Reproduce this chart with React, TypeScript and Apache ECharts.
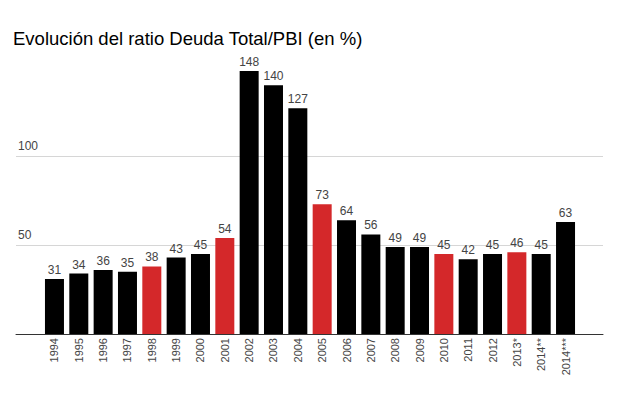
import React, { useEffect, useRef } from "react";
import * as echarts from "echarts";

const categories = ["1994", "1995", "1996", "1997", "1998", "1999", "2000", "2001", "2002", "2003", "2004", "2005", "2006", "2007", "2008", "2009", "2010", "2011", "2012", "2013*", "2014**", "2014***"];
const values = [31, 34, 36, 35, 38, 43, 45, 54, 148, 140, 127, 73, 64, 56, 49, 49, 45, 42, 45, 46, 45, 63];
const highlighted = ["1998", "2001", "2005", "2010", "2013*"];

const BLACK = "#000000";
const RED = "#d4282a";
const FONT = 'Arial, "Liberation Sans", sans-serif';

export default function App() {
  const ref = useRef<HTMLDivElement>(null);
  useEffect(() => {
    if (!ref.current) return;
    const chart = echarts.init(ref.current, undefined, { renderer: "svg" });
    const top = 67.4;
    const bottom = 70;
    chart.setOption({
      animation: false,
      backgroundColor: "#ffffff",
      textStyle: { fontFamily: FONT },
      title: {
        text: "Evolución del ratio Deuda Total/PBI (en %)",
        left: 13,
        top: 29,
        padding: 0,
        textStyle: { fontSize: 18.5, fontWeight: "normal", color: "#000", fontFamily: FONT },
      },
      grid: [
        { left: 16, right: 28, top, bottom },
        { left: 42.3, right: 53.3, top, bottom },
      ],
      xAxis: [
        {
          type: "value",
          gridIndex: 0,
          min: 0,
          max: 1,
          axisLine: { show: true, onZero: false, lineStyle: { color: "#333", width: 1 } },
          axisTick: { show: false },
          axisLabel: { show: false },
          splitLine: { show: false },
        },
        {
          type: "category",
          gridIndex: 1,
          data: categories,
          axisLine: { show: false },
          axisTick: { show: false },
          axisLabel: { rotate: 90, margin: 4, fontSize: 11, color: "#444", fontFamily: FONT, interval: 0 },
        },
      ],
      yAxis: [
        {
          type: "value",
          gridIndex: 0,
          min: 0,
          max: 150,
          interval: 50,
          axisLine: { show: false },
          axisTick: { show: false },
          axisLabel: {
            inside: true,
            margin: 2,
            fontSize: 12,
            color: "#444",
            fontFamily: FONT,
            verticalAlign: "bottom",
            padding: [0, 0, 4, 0],
            showMinLabel: false,
            showMaxLabel: false,
          },
          splitLine: { show: true, showMinLine: false, showMaxLine: false, lineStyle: { color: "#d6d6d6", width: 1 } },
        },
        {
          type: "value",
          gridIndex: 1,
          min: 0,
          max: 150,
          interval: 50,
          show: false,
          splitLine: { show: false },
        },
      ],
      series: [
        {
          type: "bar",
          xAxisIndex: 1,
          yAxisIndex: 1,
          barWidth: 19,
          data: values.map((v, i) => ({
            value: v,
            itemStyle: { color: highlighted.includes(categories[i]) ? RED : BLACK },
          })),
          label: {
            show: true,
            position: "top",
            distance: 3,
            fontSize: 12,
            color: "#444",
            fontFamily: FONT,
          },
        },
      ],
    });
    return () => chart.dispose();
  }, []);
  return <div ref={ref} style={{ position: "fixed", left: 0, top: 0, width: 631, height: 404 }} />;
}
